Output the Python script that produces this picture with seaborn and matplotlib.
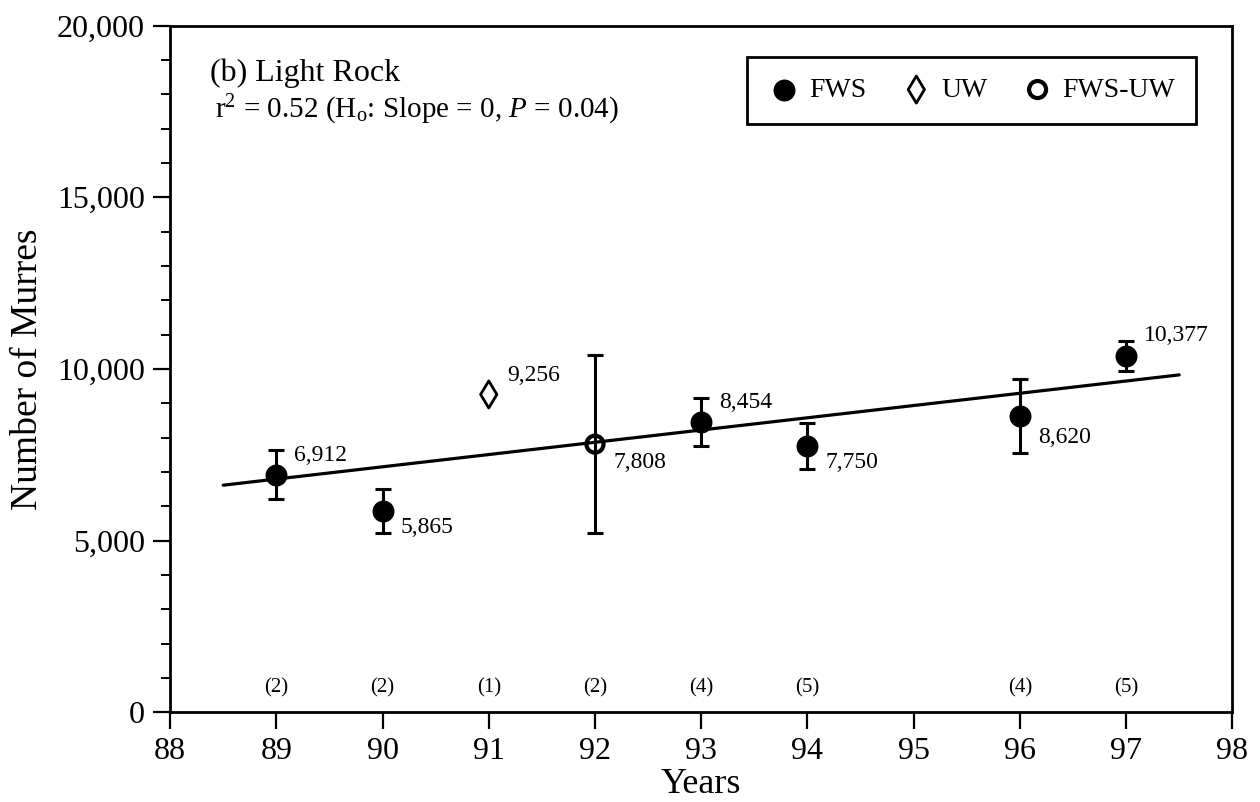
import numpy as np
import pandas as pd
import matplotlib
matplotlib.use("Agg")
import matplotlib.pyplot as plt
from matplotlib.ticker import FuncFormatter, MultipleLocator
import seaborn as sns

# Light Rock murre counts by year
years = [89, 90, 91, 92, 93, 94, 96, 97]
counts = [6912, 5865, 9256, 7808, 8454, 7750, 8620, 10377]
errors = [715, 640, np.nan, 2595, 685, 670, 1080, 425]
methods = ["FWS", "FWS", "UW", "FWS-UW", "FWS", "FWS", "FWS", "FWS"]
n_surveys = ["(2)", "(2)", "(1)", "(2)", "(4)", "(5)", "(4)", "(5)"]
# label offsets (points) relative to each point
label_dy = [14, -12, 14, -13, 14, -12, -15, 15]

df = pd.DataFrame({"Year": years, "Count": counts, "Err": errors, "Method": methods})

sns.set_theme(style="ticks")
plt.rcParams["font.family"] = ["Liberation Serif", "DejaVu Serif"]
plt.rcParams["mathtext.fontset"] = "custom"
plt.rcParams["mathtext.rm"] = "Liberation Serif"
plt.rcParams["mathtext.it"] = "Liberation Serif:italic"
for key in ["axes.edgecolor", "text.color", "xtick.color", "ytick.color", "axes.labelcolor"]:
    plt.rcParams[key] = "black"

fig, ax = plt.subplots(figsize=(12.6, 8.02), dpi=100)
fig.subplots_adjust(left=0.135, right=0.978, bottom=0.112, top=0.968)

# error bars
eb = df.dropna(subset=["Err"])
ax.errorbar(eb["Year"], eb["Count"], yerr=eb["Err"], fmt="none", ecolor="black",
            elinewidth=2.2, capsize=5.5, capthick=2.2, zorder=2)

# regression line
slope, intercept = np.polyfit(df["Year"], df["Count"], 1)
line_x = np.array([88.5, 97.5])
sns.lineplot(x=line_x, y=slope * line_x + intercept, ax=ax, color="black", lw=2.3, zorder=3)

# points by survey method
fws = df[df["Method"] == "FWS"]
uw = df[df["Method"] == "UW"]
fwsuw = df[df["Method"] == "FWS-UW"]
sns.scatterplot(data=fws, x="Year", y="Count", ax=ax, marker="o", s=250,
                color="black", edgecolor="black", linewidth=0, label="FWS", zorder=4)
sns.scatterplot(data=uw, x="Year", y="Count", ax=ax, marker="d", s=190,
                facecolor="none", edgecolor="black", linewidth=2, label="UW", zorder=4)
sns.scatterplot(data=fwsuw, x="Year", y="Count", ax=ax, marker="o", s=150,
                facecolor="none", edgecolor="black", linewidth=3, label="FWS-UW", zorder=4)

# value labels
for yr, c, dy in zip(years, counts, label_dy):
    ax.annotate(f"{c:,}", (yr, c), xytext=(13, dy), textcoords="offset points",
                ha="left", va="center", fontsize=17)

# sample sizes along the bottom
for yr, n in zip(years, n_surveys):
    ax.text(yr, 700, n, ha="center", va="center", fontsize=15)

ax.set_xlim(88, 98)
ax.set_ylim(0, 20000)
ax.set_xticks(range(88, 99))
ax.yaxis.set_major_locator(MultipleLocator(5000))
ax.yaxis.set_minor_locator(MultipleLocator(1000))
ax.yaxis.set_major_formatter(FuncFormatter(lambda v, p: f"{v:,.0f}"))
ax.tick_params(axis="both", which="major", direction="out", length=12, width=1.6,
               labelsize=23, pad=6)
ax.tick_params(axis="y", which="minor", direction="out", length=6.5, width=1.4)
for sp in ax.spines.values():
    sp.set_visible(True)
    sp.set_linewidth(2)
    sp.set_color("black")

ax.set_xlabel("Years", fontsize=26, labelpad=1)
ax.set_ylabel("Number of Murres", fontsize=27, labelpad=9)

ax.text(0.038, 0.93, "(b) Light Rock", transform=ax.transAxes, fontsize=23,
        ha="left", va="center")
ax.text(0.042, 0.877, r"r$^2$ = 0.52 (H$_{\rm o}$: Slope = 0, $P$ = 0.04)",
        transform=ax.transAxes, fontsize=21, ha="left", va="center")

leg = ax.legend(ncol=3, loc="upper right", bbox_to_anchor=(0.966, 0.955),
                borderaxespad=0, fontsize=20, frameon=True, fancybox=False,
                framealpha=1, edgecolor="black", handletextpad=0.3,
                columnspacing=1.2, borderpad=0.75, handlelength=1.2)
leg.get_frame().set_linewidth(2)

fig.savefig("out.png", dpi=100)
